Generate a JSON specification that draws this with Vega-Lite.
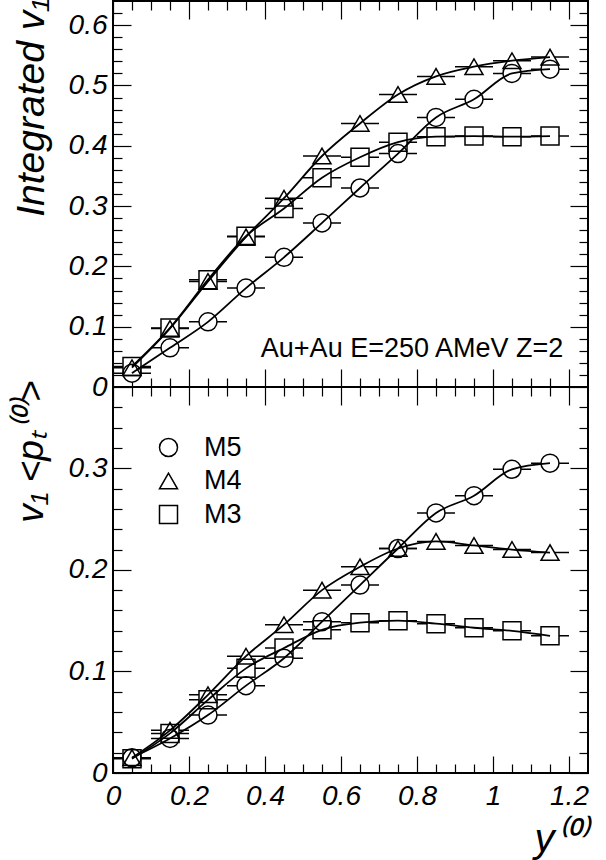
{
  "$schema": "https://vega.github.io/schema/vega-lite/v6.json",
  "autosize": {"type": "none"},
  "padding": {"left": 113, "top": 1, "right": 493, "bottom": 859},
  "background": "white",
  "spacing": 0,
  "bounds": "flush",
  "datasets": {
    "top": [
      {"model": "M5", "x": 0.05, "xlo": 0.0, "xhi": 0.1, "v": 0.023},
      {"model": "M5", "x": 0.15, "xlo": 0.1, "xhi": 0.2, "v": 0.065},
      {"model": "M5", "x": 0.25, "xlo": 0.2, "xhi": 0.3, "v": 0.108},
      {"model": "M5", "x": 0.35, "xlo": 0.3, "xhi": 0.4, "v": 0.164},
      {"model": "M5", "x": 0.45, "xlo": 0.4, "xhi": 0.5, "v": 0.215},
      {"model": "M5", "x": 0.55, "xlo": 0.5, "xhi": 0.6, "v": 0.272},
      {"model": "M5", "x": 0.65, "xlo": 0.6, "xhi": 0.7, "v": 0.330},
      {"model": "M5", "x": 0.75, "xlo": 0.7, "xhi": 0.8, "v": 0.387},
      {"model": "M5", "x": 0.85, "xlo": 0.8, "xhi": 0.9, "v": 0.447},
      {"model": "M5", "x": 0.95, "xlo": 0.9, "xhi": 1.0, "v": 0.477},
      {"model": "M5", "x": 1.05, "xlo": 1.0, "xhi": 1.1, "v": 0.520},
      {"model": "M5", "x": 1.15, "xlo": 1.1, "xhi": 1.2, "v": 0.527},
      {"model": "M4", "x": 0.05, "xlo": 0.0, "xhi": 0.1, "v": 0.032},
      {"model": "M4", "x": 0.15, "xlo": 0.1, "xhi": 0.2, "v": 0.097},
      {"model": "M4", "x": 0.25, "xlo": 0.2, "xhi": 0.3, "v": 0.175},
      {"model": "M4", "x": 0.35, "xlo": 0.3, "xhi": 0.4, "v": 0.249},
      {"model": "M4", "x": 0.45, "xlo": 0.4, "xhi": 0.5, "v": 0.313},
      {"model": "M4", "x": 0.55, "xlo": 0.5, "xhi": 0.6, "v": 0.383},
      {"model": "M4", "x": 0.65, "xlo": 0.6, "xhi": 0.7, "v": 0.437},
      {"model": "M4", "x": 0.75, "xlo": 0.7, "xhi": 0.8, "v": 0.485},
      {"model": "M4", "x": 0.85, "xlo": 0.8, "xhi": 0.9, "v": 0.515},
      {"model": "M4", "x": 0.95, "xlo": 0.9, "xhi": 1.0, "v": 0.531},
      {"model": "M4", "x": 1.05, "xlo": 1.0, "xhi": 1.1, "v": 0.541},
      {"model": "M4", "x": 1.15, "xlo": 1.1, "xhi": 1.2, "v": 0.547},
      {"model": "M3", "x": 0.05, "xlo": 0.0, "xhi": 0.1, "v": 0.034},
      {"model": "M3", "x": 0.15, "xlo": 0.1, "xhi": 0.2, "v": 0.098},
      {"model": "M3", "x": 0.25, "xlo": 0.2, "xhi": 0.3, "v": 0.178},
      {"model": "M3", "x": 0.35, "xlo": 0.3, "xhi": 0.4, "v": 0.250},
      {"model": "M3", "x": 0.45, "xlo": 0.4, "xhi": 0.5, "v": 0.296},
      {"model": "M3", "x": 0.55, "xlo": 0.5, "xhi": 0.6, "v": 0.347},
      {"model": "M3", "x": 0.65, "xlo": 0.6, "xhi": 0.7, "v": 0.381},
      {"model": "M3", "x": 0.75, "xlo": 0.7, "xhi": 0.8, "v": 0.406},
      {"model": "M3", "x": 0.85, "xlo": 0.8, "xhi": 0.9, "v": 0.415},
      {"model": "M3", "x": 0.95, "xlo": 0.9, "xhi": 1.0, "v": 0.416},
      {"model": "M3", "x": 1.05, "xlo": 1.0, "xhi": 1.1, "v": 0.415},
      {"model": "M3", "x": 1.15, "xlo": 1.1, "xhi": 1.2, "v": 0.416}
    ],
    "bottom": [
      {"model": "M5", "x": 0.05, "xlo": 0.0, "xhi": 0.1, "v": 0.015},
      {"model": "M5", "x": 0.15, "xlo": 0.1, "xhi": 0.2, "v": 0.034},
      {"model": "M5", "x": 0.25, "xlo": 0.2, "xhi": 0.3, "v": 0.057},
      {"model": "M5", "x": 0.35, "xlo": 0.3, "xhi": 0.4, "v": 0.086},
      {"model": "M5", "x": 0.45, "xlo": 0.4, "xhi": 0.5, "v": 0.113},
      {"model": "M5", "x": 0.55, "xlo": 0.5, "xhi": 0.6, "v": 0.149},
      {"model": "M5", "x": 0.65, "xlo": 0.6, "xhi": 0.7, "v": 0.185},
      {"model": "M5", "x": 0.75, "xlo": 0.7, "xhi": 0.8, "v": 0.221},
      {"model": "M5", "x": 0.85, "xlo": 0.8, "xhi": 0.9, "v": 0.256},
      {"model": "M5", "x": 0.95, "xlo": 0.9, "xhi": 1.0, "v": 0.273},
      {"model": "M5", "x": 1.05, "xlo": 1.0, "xhi": 1.1, "v": 0.299},
      {"model": "M5", "x": 1.15, "xlo": 1.1, "xhi": 1.2, "v": 0.305},
      {"model": "M4", "x": 0.05, "xlo": 0.0, "xhi": 0.1, "v": 0.015},
      {"model": "M4", "x": 0.15, "xlo": 0.1, "xhi": 0.2, "v": 0.042},
      {"model": "M4", "x": 0.25, "xlo": 0.2, "xhi": 0.3, "v": 0.077},
      {"model": "M4", "x": 0.35, "xlo": 0.3, "xhi": 0.4, "v": 0.115},
      {"model": "M4", "x": 0.45, "xlo": 0.4, "xhi": 0.5, "v": 0.146},
      {"model": "M4", "x": 0.55, "xlo": 0.5, "xhi": 0.6, "v": 0.180},
      {"model": "M4", "x": 0.65, "xlo": 0.6, "xhi": 0.7, "v": 0.203},
      {"model": "M4", "x": 0.75, "xlo": 0.7, "xhi": 0.8, "v": 0.221},
      {"model": "M4", "x": 0.85, "xlo": 0.8, "xhi": 0.9, "v": 0.228},
      {"model": "M4", "x": 0.95, "xlo": 0.9, "xhi": 1.0, "v": 0.224},
      {"model": "M4", "x": 1.05, "xlo": 1.0, "xhi": 1.1, "v": 0.220},
      {"model": "M4", "x": 1.15, "xlo": 1.1, "xhi": 1.2, "v": 0.217},
      {"model": "M3", "x": 0.05, "xlo": 0.0, "xhi": 0.1, "v": 0.014},
      {"model": "M3", "x": 0.15, "xlo": 0.1, "xhi": 0.2, "v": 0.039},
      {"model": "M3", "x": 0.25, "xlo": 0.2, "xhi": 0.3, "v": 0.072},
      {"model": "M3", "x": 0.35, "xlo": 0.3, "xhi": 0.4, "v": 0.103},
      {"model": "M3", "x": 0.45, "xlo": 0.4, "xhi": 0.5, "v": 0.123},
      {"model": "M3", "x": 0.55, "xlo": 0.5, "xhi": 0.6, "v": 0.141},
      {"model": "M3", "x": 0.65, "xlo": 0.6, "xhi": 0.7, "v": 0.148},
      {"model": "M3", "x": 0.75, "xlo": 0.7, "xhi": 0.8, "v": 0.150},
      {"model": "M3", "x": 0.85, "xlo": 0.8, "xhi": 0.9, "v": 0.147},
      {"model": "M3", "x": 0.95, "xlo": 0.9, "xhi": 1.0, "v": 0.143},
      {"model": "M3", "x": 1.05, "xlo": 1.0, "xhi": 1.1, "v": 0.140},
      {"model": "M3", "x": 1.15, "xlo": 1.1, "xhi": 1.2, "v": 0.135}
    ]
  },
  "vconcat": [
    {
      "width": 475,
      "height": 386,
      "data": {"name": "top"},
      "layer": [
        {
          "mark": {"type": "rule", "color": "black", "strokeWidth": 1.5},
          "encoding": {
            "x": {"field": "xlo", "type": "quantitative", "scale": {"domain": [0, 1.25], "nice": false, "zero": false},
              "axis": {"orient": "bottom", "labels": false, "title": null,
                "values": [0,0.05,0.1,0.15,0.2,0.25,0.3,0.35,0.4,0.45,0.5,0.55,0.6,0.65,0.7,0.75,0.8,0.85,0.9,0.95,1,1.05,1.1,1.15,1.2],
                "tickSize": {"condition": {"test": "abs(datum.value*5-round(datum.value*5))<1e-6", "value": -18}, "value": -9}}},
            "x2": {"field": "xhi"},
            "y": {"field": "v", "type": "quantitative", "scale": {"domain": [0, 0.64], "nice": false, "zero": false},
              "axis": {"orient": "left",
                "values": [0,0.02,0.04,0.06,0.08,0.1,0.12,0.14,0.16,0.18,0.2,0.22,0.24,0.26,0.28,0.3,0.32,0.34,0.36,0.38,0.4,0.42,0.44,0.46,0.48,0.5,0.52,0.54,0.56,0.58,0.6,0.62],
                "labelExpr": "abs(datum.value*10-round(datum.value*10))<1e-6 ? format(datum.value,'~g') : ''",
                "tickSize": {"condition": {"test": "abs(datum.value*10-round(datum.value*10))<1e-6", "value": -18}, "value": -9},
                "labelPadding": 24,
                "title": "Integrated v₁", "titleX": -70, "titleY": -3, "titleAngle": 270, "titleAlign": "right", "titleBaseline": "alphabetic",
                "titleFontSize": 39, "titleFontStyle": "italic", "titleFontWeight": "normal", "titleFont": "Liberation Sans"}}
          }
        },
        {
          "mark": {"type": "point", "filled": true, "fill": "white", "strokeWidth": 0, "size": 324, "opacity": 1},
          "encoding": {
            "x": {"field": "x", "type": "quantitative", "axis": null},
            "y": {"field": "v", "type": "quantitative", "axis": null},
            "shape": {"field": "model", "type": "nominal", "scale": {"domain": ["M5", "M4", "M3"], "range": ["circle", "triangle-up", "square"]}, "legend": null}
          }
        },
        {
          "mark": {"type": "point", "filled": false, "stroke": "black", "strokeWidth": 1.5, "size": 324, "opacity": 1},
          "encoding": {
            "x": {"field": "x", "type": "quantitative",
              "axis": {"orient": "top", "labels": false, "title": null,
                "values": [0,0.05,0.1,0.15,0.2,0.25,0.3,0.35,0.4,0.45,0.5,0.55,0.6,0.65,0.7,0.75,0.8,0.85,0.9,0.95,1,1.05,1.1,1.15,1.2],
                "tickSize": {"condition": {"test": "abs(datum.value*5-round(datum.value*5))<1e-6", "value": -18}, "value": -9}}},
            "y": {"field": "v", "type": "quantitative",
              "axis": {"orient": "right", "labels": false, "title": null,
                "values": [0,0.02,0.04,0.06,0.08,0.1,0.12,0.14,0.16,0.18,0.2,0.22,0.24,0.26,0.28,0.3,0.32,0.34,0.36,0.38,0.4,0.42,0.44,0.46,0.48,0.5,0.52,0.54,0.56,0.58,0.6,0.62],
                "tickSize": {"condition": {"test": "abs(datum.value*10-round(datum.value*10))<1e-6", "value": -18}, "value": -9}}},
            "shape": {"field": "model", "type": "nominal", "scale": {"domain": ["M5", "M4", "M3"], "range": ["circle", "triangle-up", "square"]}, "legend": null}
          }
        },
        {
          "mark": {"type": "line", "interpolate": "monotone", "color": "black", "strokeWidth": 1.8},
          "encoding": {
            "x": {"field": "x", "type": "quantitative", "axis": null},
            "y": {"field": "v", "type": "quantitative", "axis": null},
            "detail": {"field": "model", "type": "nominal"}
          }
        },
        {
          "data": {"values": [{}]},
          "mark": {"type": "text", "align": "right", "baseline": "alphabetic", "font": "Liberation Sans", "fontSize": 27, "color": "black"},
          "encoding": {
            "x": {"datum": 1.185, "type": "quantitative", "axis": null},
            "y": {"datum": 0.049, "type": "quantitative", "axis": null},
            "text": {"value": "Au+Au E=250 AMeV Z=2"}
          }
        }
      ],
      "resolve": {"axis": {"x": "independent", "y": "independent"}}
    },
    {
      "width": 475,
      "height": 386,
      "data": {"name": "bottom"},
      "layer": [
        {
          "mark": {"type": "rule", "color": "black", "strokeWidth": 1.5},
          "encoding": {
            "x": {"field": "xlo", "type": "quantitative", "scale": {"domain": [0, 1.25], "nice": false, "zero": false},
              "axis": {"orient": "bottom",
                "values": [0,0.05,0.1,0.15,0.2,0.25,0.3,0.35,0.4,0.45,0.5,0.55,0.6,0.65,0.7,0.75,0.8,0.85,0.9,0.95,1,1.05,1.1,1.15,1.2],
                "labelExpr": "abs(datum.value*5-round(datum.value*5))<1e-6 ? format(datum.value,'~g') : ''",
                "tickSize": {"condition": {"test": "abs(datum.value*5-round(datum.value*5))<1e-6", "value": -17}, "value": -9},
                "labelPadding": 26,
                "title": "y⁽⁰⁾", "titleX": 473, "titleY": 78, "titleAlign": "right", "titleBaseline": "alphabetic", "titleAngle": 0,
                "titleFontSize": 40, "titleFontStyle": "italic", "titleFontWeight": "normal", "titleFont": "Liberation Sans"}},
            "x2": {"field": "xhi"},
            "y": {"field": "v", "type": "quantitative", "scale": {"domain": [0, 0.38], "nice": false, "zero": false},
              "axis": {"orient": "left",
                "values": [0,0.02,0.04,0.06,0.08,0.1,0.12,0.14,0.16,0.18,0.2,0.22,0.24,0.26,0.28,0.3,0.32,0.34,0.36],
                "labelExpr": "abs(datum.value*10-round(datum.value*10))<1e-6 ? format(datum.value,'~g') : ''",
                "tickSize": {"condition": {"test": "abs(datum.value*10-round(datum.value*10))<1e-6", "value": -18}, "value": -9},
                "labelPadding": 24,
                "title": "v₁ <pₜ⁽⁰⁾>", "titleX": -71, "titleY": -7, "titleAngle": 270, "titleAlign": "right", "titleBaseline": "alphabetic",
                "titleFontSize": 37, "titleFontStyle": "italic", "titleFontWeight": "normal", "titleFont": "Liberation Sans"}}
          }
        },
        {
          "mark": {"type": "point", "filled": true, "fill": "white", "strokeWidth": 0, "size": 324, "opacity": 1},
          "encoding": {
            "x": {"field": "x", "type": "quantitative", "axis": null},
            "y": {"field": "v", "type": "quantitative", "axis": null},
            "shape": {"field": "model", "type": "nominal", "scale": {"domain": ["M5", "M4", "M3"], "range": ["circle", "triangle-up", "square"]}, "legend": null}
          }
        },
        {
          "mark": {"type": "point", "filled": false, "stroke": "black", "strokeWidth": 1.5, "size": 324, "opacity": 1},
          "encoding": {
            "x": {"field": "x", "type": "quantitative",
              "axis": {"orient": "top", "labels": false, "title": null,
                "values": [0,0.05,0.1,0.15,0.2,0.25,0.3,0.35,0.4,0.45,0.5,0.55,0.6,0.65,0.7,0.75,0.8,0.85,0.9,0.95,1,1.05,1.1,1.15,1.2],
                "tickSize": {"condition": {"test": "abs(datum.value*5-round(datum.value*5))<1e-6", "value": -18}, "value": -9}}},
            "y": {"field": "v", "type": "quantitative",
              "axis": {"orient": "right", "labels": false, "title": null,
                "values": [0,0.02,0.04,0.06,0.08,0.1,0.12,0.14,0.16,0.18,0.2,0.22,0.24,0.26,0.28,0.3,0.32,0.34,0.36],
                "tickSize": {"condition": {"test": "abs(datum.value*10-round(datum.value*10))<1e-6", "value": -18}, "value": -9}}},
            "shape": {"field": "model", "type": "nominal", "scale": {"domain": ["M5", "M4", "M3"], "range": ["circle", "triangle-up", "square"]},
              "legend": {"orient": "none", "legendX": 42, "legendY": 47, "title": null, "symbolSize": 324, "symbolStrokeWidth": 1.5,
                "symbolFillColor": "transparent", "symbolStrokeColor": "black", "labelFontSize": 27, "labelFont": "Liberation Sans",
                "labelColor": "black", "labelOffset": 22, "rowPadding": 5.5, "labelLimit": 200}}
          }
        },
        {
          "mark": {"type": "line", "interpolate": "monotone", "color": "black", "strokeWidth": 1.8},
          "encoding": {
            "x": {"field": "x", "type": "quantitative", "axis": null},
            "y": {"field": "v", "type": "quantitative", "axis": null},
            "detail": {"field": "model", "type": "nominal"}
          }
        }
      ],
      "resolve": {"axis": {"x": "independent", "y": "independent"}, "scale": {"shape": "independent"}, "legend": {"shape": "independent"}}
    }
  ],
  "resolve": {"scale": {"shape": "independent"}, "legend": {"shape": "independent"}},
  "config": {
    "view": {"stroke": "black", "strokeWidth": 2},
    "axis": {"domain": false, "grid": false, "tickColor": "black", "tickWidth": 1.2, "labelFont": "Liberation Sans", "labelFontStyle": "italic",
      "labelFontSize": 28, "labelColor": "black", "labelOverlap": false, "labelFlush": false, "titleColor": "black"}
  }
}
